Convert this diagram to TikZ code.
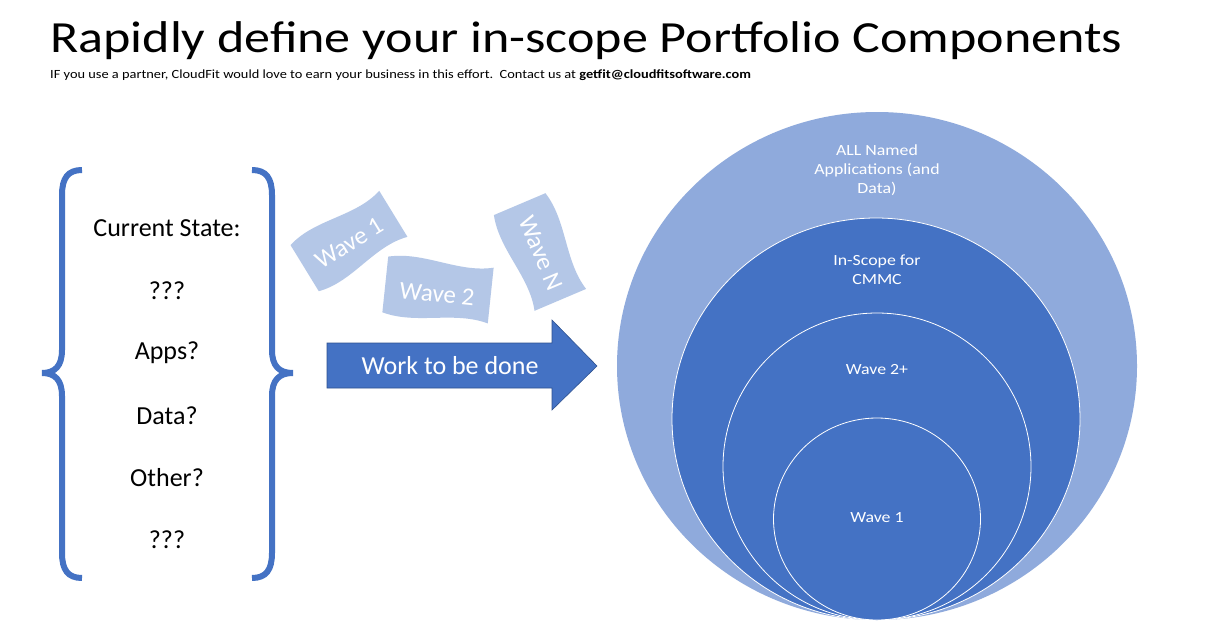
\documentclass[tikz,border=0pt]{standalone}
\usepackage{fontspec}
\setmainfont{Carlito}
\newfontfamily\titlefont[FakeStretch=1.17]{Carlito}
\newfontfamily\subfont[FakeStretch=1.15]{Carlito}
\definecolor{cblue}{HTML}{4472C4}
\definecolor{clight}{HTML}{8FAADC}
\definecolor{cflag}{HTML}{B4C7E7}
\definecolor{cborder}{HTML}{2F528F}
\begin{document}
\begin{tikzpicture}[x=1pt,y=-1pt,
  brace/.style={draw=cblue,line width=6pt,line cap=butt},
  listtxt/.style={font=\fontsize{26}{30}\selectfont,text=black,inner sep=0pt},
  circtxt/.style={font=\subfont\fontsize{15.5}{19}\selectfont,text=white,align=center,inner sep=0pt},
  flagtxt/.style={font=\fontsize{25}{28}\selectfont,text=white,inner sep=0pt},
  flagshape/.style={fill=cflag},
  ring/.style={fill=cblue,draw=white,line width=0.8pt}]
\useasboundingbox[fill=white] (0,0) rectangle (1213,632);

% title
\node[anchor=base west,inner sep=0pt,font=\titlefont\fontsize{44.5}{50}\selectfont] (title) at (50,52) {Rapidly define your in-scope Portfolio Components};
\node[anchor=base west,inner sep=0pt,font=\subfont\fontsize{12.5}{14}\selectfont] (sub) at (50,78) {IF you use a partner, CloudFit would love to earn your business in this effort.\ \ Contact us at \textbf{getfit@cloudfitsoftware.com}};

% braces
\draw[brace] (82,170) .. controls (68,170) and (62,178) .. (62,195) -- (62,350)
  .. controls (62,366) and (55,373) .. (42,373) .. controls (55,373) and (62,380) .. (62,396)
  -- (62,553) .. controls (62,570) and (68,578) .. (82,578);
\draw[brace] (252,170) .. controls (266,170) and (272,178) .. (272,195) -- (272,350)
  .. controls (272,366) and (279,373) .. (293,373) .. controls (279,373) and (272,380) .. (272,396)
  -- (272,553) .. controls (272,570) and (266,578) .. (252,578);

% list
\node[listtxt] (cs) at (167,228) {Current State:};
\node[listtxt] (q1) at (167,291) {???};
\node[listtxt] (apps) at (167,353) {Apps?};
\node[listtxt] (data) at (167,416) {Data?};
\node[listtxt] (other) at (167,478) {Other?};
\node[listtxt] (q2) at (167,540) {???};

% flags
\begin{scope}[shift={(349,241)},rotate=31.5]
\fill[flagshape] (-52,-27) .. controls (-18,-37) and (18,-17) .. (52,-27) -- (52,27)
  .. controls (18,17) and (-18,37) .. (-52,27) -- cycle;
\end{scope}
\node[flagtxt,rotate=31.5] (w1) at (349,243) {Wave 1};
\begin{scope}[shift={(438,290)},rotate=-6]
\fill[flagshape] (-53,-28) .. controls (-18,-37) and (18,-19) .. (53,-28) -- (53,28)
  .. controls (18,19) and (-18,37) .. (-53,28) -- cycle;
\end{scope}
\node[flagtxt,rotate=-6] (w2) at (437,294) {Wave 2};
\begin{scope}[shift={(540,252)},rotate=-67]
\fill[flagshape] (-52,-28) .. controls (-18,-37) and (18,-19) .. (52,-28) -- (52,28)
  .. controls (18,19) and (-18,37) .. (-52,28) -- cycle;
\end{scope}
\node[flagtxt,rotate=-67] (wn) at (541,253) {Wave N};

% arrow
\draw[fill=cblue,draw=cborder,line width=0.6pt] (327,343) -- (552,343) -- (552,320) -- (597,366)
  -- (552,410) -- (552,388) -- (327,388) -- cycle;
\node[font=\fontsize{26}{30}\selectfont,text=white,inner sep=0pt] (work) at (450,366) {Work to be done};

% circles
\fill[clight] (877,366) ellipse [x radius=260,y radius=254];
\draw[ring] (876,419) ellipse [x radius=204,y radius=201];
\draw[ring] (877,466.5) ellipse [x radius=154,y radius=153.5];
\draw[ring] (877,519) ellipse [x radius=103.5,y radius=101];
\node[circtxt] (all) at (877,170) {ALL Named\\Applications (and\\Data)};
\node[circtxt] (insc) at (877,270) {In-Scope for\\CMMC};
\node[circtxt] (w2p) at (877,370) {Wave 2+};
\node[circtxt] (w1c) at (877,518) {Wave 1};
\end{tikzpicture}
\end{document}
